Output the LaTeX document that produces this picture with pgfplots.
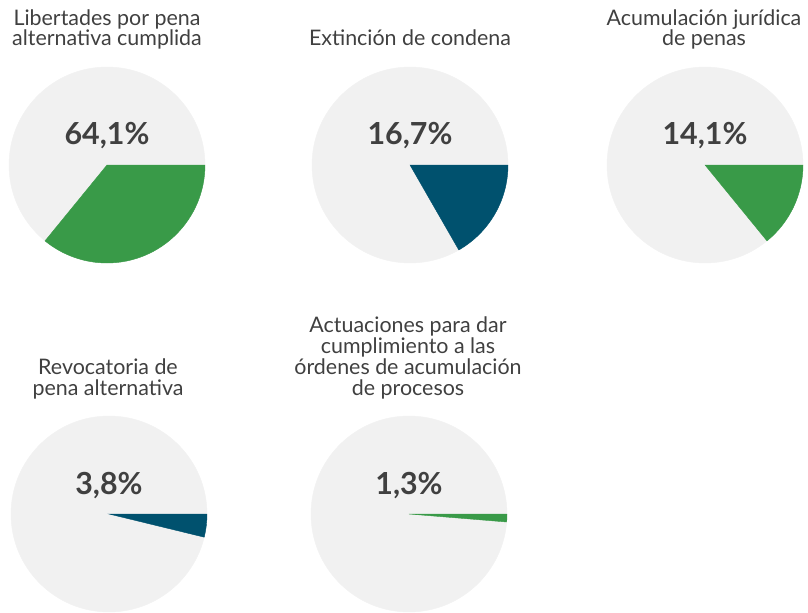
\documentclass[border=0pt]{standalone}
\usepackage{fontspec}
\setmainfont{Lato}
\usepackage{pgfplots}
\pgfplotsset{compat=1.18}
\definecolor{ink}{HTML}{404040}
\definecolor{disc}{HTML}{F1F1F1}
\definecolor{verde}{HTML}{399A48}
\definecolor{azul}{HTML}{00516E}

% centre x, centre y (px from top), wedge share in %
% first pie: the drawn wedge is the complement of its label
\pgfplotstableread{
x   y   share
107 165 35.9
705 165 14.1
409 514 1.3
}\green
\pgfplotstableread{
x   y   share
410 165 16.7
109 514 3.8
}\blue
% labels: x, baseline y, value
\pgfplotstableread{
x   y   lab
107 144 64,1
410 144 16,7
705 144 14,1
109 494 3,8
409 494 1,3
}\labels

\pgfplotsset{pie/.style={scatter, only marks, mark=*, mark size=0pt,
  mark options={draw=none, fill=none},
  visualization depends on={\thisrow{share} \as \share},
  scatter/@pre marker code/.code={%
    \fill[disc] (0,0) circle[radius=98bp];
    \fill[#1] (0,0) -- (0:98bp) arc[start angle=0, end angle={-3.6*\share}, radius=98bp] -- cycle;
  },
  scatter/@post marker code/.code={}}}

% anchor=base sits on the last line here
\tikzset{ttl/.style={anchor=base, align=center, text=ink,
  font=\fontsize{21.5}{21}\selectfont}}

\begin{document}
\begin{tikzpicture}
\useasboundingbox (0,0) rectangle (808bp,613bp);
\begin{axis}[at={(0,0)}, anchor=south west,
  scale only axis, width=808bp, height=613bp,
  xmin=0, xmax=808, ymin=0, ymax=613, y dir=reverse,
  hide axis, clip=false]
\addplot[pie=verde] table[x=x, y=y] {\green};
\addplot[pie=azul] table[x=x, y=y] {\blue};
\addplot[only marks, mark=none, point meta=explicit symbolic,
  nodes near coords={\pgfplotspointmeta\%},
  nodes near coords style={anchor=base, text=ink,
    font=\fontsize{30.5}{30}\selectfont\bfseries}]
  table[x=x, y=y, meta=lab] {\labels};

\node[ttl] at (axis cs:107,46) {Libertades por pena\\alternativa cumplida};
\node[ttl] at (axis cs:410,46) {Extinción de condena};
\node[ttl] at (axis cs:704,46) {Acumulación jurídica\\de penas};
\node[ttl] at (axis cs:108,395) {Revocatoria de\\pena alternativa};
\node[ttl] at (axis cs:408,395) {Actuaciones para dar\\cumplimiento a las\\órdenes de acumulación\\de procesos};
\end{axis}
\end{tikzpicture}
\end{document}
